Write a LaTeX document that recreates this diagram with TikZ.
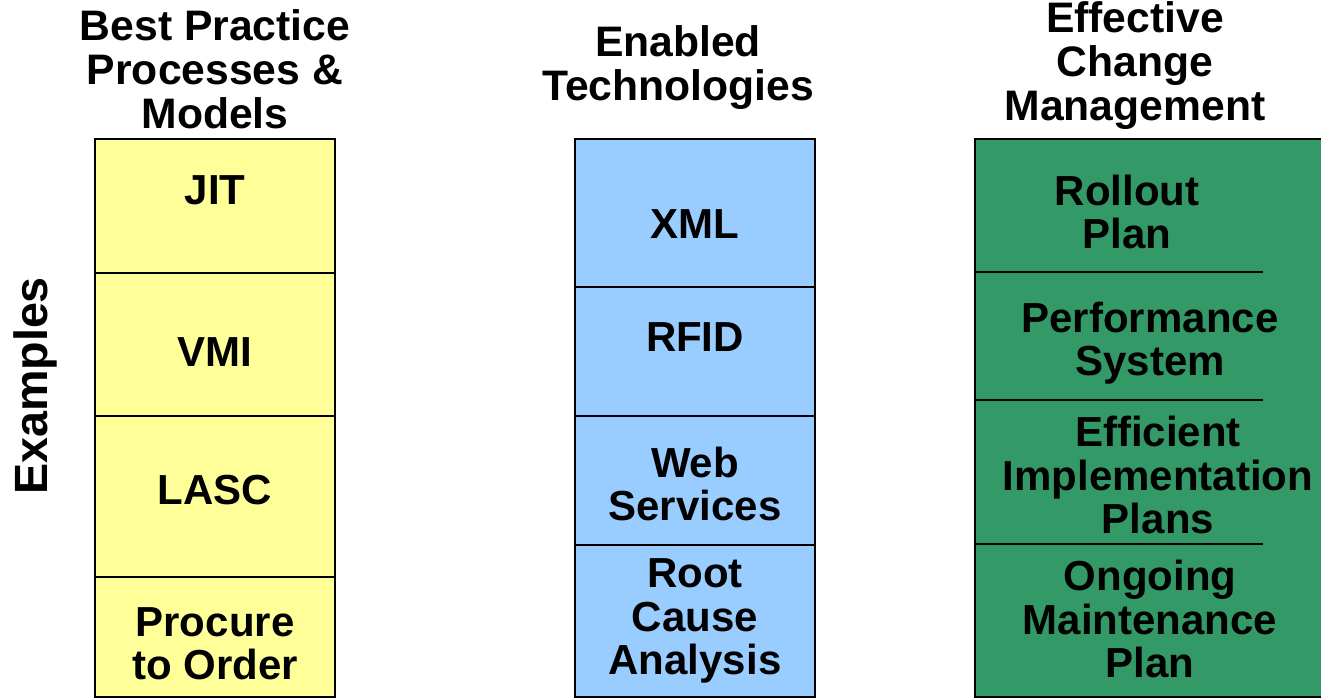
\documentclass[tikz,border=0pt]{standalone}
\usepackage{fontspec}
\setmainfont{Liberation Sans}
\definecolor{ylw}{HTML}{FFFF99}
\definecolor{blu}{HTML}{99CCFF}
\definecolor{grn}{HTML}{339966}
\begin{document}
\begin{tikzpicture}[x=0.75pt,y=-0.75pt,
  lbl/.style={align=center,font=\bfseries\fontsize{31.5}{32.5}\selectfont,inner sep=0pt},
  ttl/.style={align=center,font=\bfseries\fontsize{32}{33}\selectfont,inner sep=0pt},
  col/.style={draw=black,line width=1.5pt},
  sep/.style={draw=black,line width=1.1pt}]
\useasboundingbox (0,0) rectangle (1321,699);
\clip (0,0) rectangle (1321,699);
% columns
\path[col,fill=ylw] (95,139) rectangle (335,697);
\path[col,fill=blu] (575,139) rectangle (815,697);
\path[col,fill=grn] (975,139) rectangle (1330,697);
% separators
\coordinate (y1l) at (95,273); \coordinate (y1r) at (335,273);
\coordinate (y2l) at (95,416); \coordinate (y2r) at (335,416);
\coordinate (y3l) at (95,577); \coordinate (y3r) at (335,577);
\draw[sep] (y1l) -- (y1r); \draw[sep] (y2l) -- (y2r); \draw[sep] (y3l) -- (y3r);
\coordinate (b1l) at (575,287); \coordinate (b1r) at (815,287);
\coordinate (b2l) at (575,416); \coordinate (b2r) at (815,416);
\coordinate (b3l) at (575,545); \coordinate (b3r) at (815,545);
\draw[sep] (b1l) -- (b1r); \draw[sep] (b2l) -- (b2r); \draw[sep] (b3l) -- (b3r);
\coordinate (g1l) at (975,272); \coordinate (g1r) at (1263,272);
\coordinate (g2l) at (975,400); \coordinate (g2r) at (1263,400);
\coordinate (g3l) at (975,544); \coordinate (g3r) at (1263,544);
\draw[sep] (g1l) -- (g1r); \draw[sep] (g2l) -- (g2r); \draw[sep] (g3l) -- (g3r);
% titles
\node[ttl] (t1) at (215,69) {Best Practice\\Processes \&\\Models};
\node[ttl] (t2) at (678,68) {Enabled\\Technologies};
\node[ttl] (t3) at (1135,66) {Effective\\Change\\Management};
\node[lbl,rotate=90,font=\bfseries\fontsize{35}{36}\selectfont] (ex) at (35,386) {Examples};
% yellow
\node[lbl] (jit) at (215,190) {JIT};
\node[lbl] (vmi) at (215,352) {VMI};
\node[lbl] (lasc) at (215,490) {LASC};
\node[lbl] (pto) at (215,644) {Procure\\to Order};
% blue
\node[lbl] (xml) at (695,224) {XML};
\node[lbl] (rfid) at (695,337) {RFID};
\node[lbl] (ws) at (695,484) {Web\\Services};
\node[lbl] (rca) at (695,621) {Root\\Cause\\Analysis};
% green
\node[lbl] (rp) at (1127,212) {Rollout\\Plan};
\node[lbl] (ps) at (1150,343) {Performance\\System};
\node[lbl] (eip) at (1158,475) {Efficient\\Implementation\\Plans};
\node[lbl] (omp) at (1150,619) {Ongoing\\Maintenance\\Plan};
\end{tikzpicture}
\end{document}
